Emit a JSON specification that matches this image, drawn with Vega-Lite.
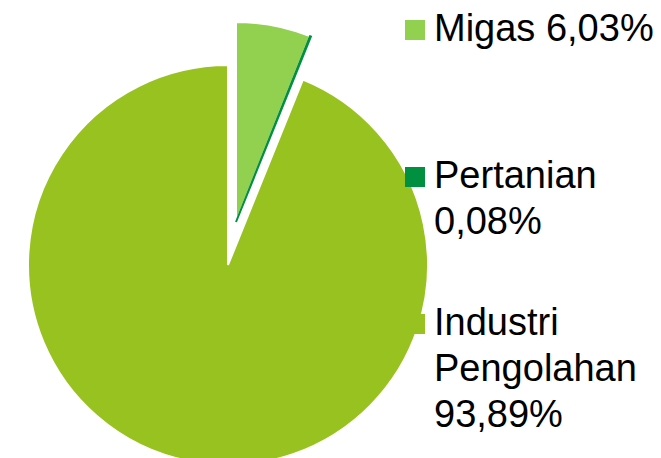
{
  "$schema": "https://vega.github.io/schema/vega-lite/v6.json",
  "width": 456,
  "height": 530,
  "autosize": "none",
  "padding": {"left": 0, "top": 0, "right": 205, "bottom": 0},
  "background": "white",
  "config": {"view": {"stroke": null}, "style": {"guide-label": {"lineHeight": 46}}},
  "data": {
    "values": [
      {"sektor": "Migas", "persen": 6.03, "urut": 1},
      {"sektor": "Pertanian", "persen": 0.08, "urut": 2},
      {"sektor": "Industri Pengolahan", "persen": 93.89, "urut": 3}
    ]
  },
  "transform": [
    {"stack": "persen", "groupby": [], "sort": [{"field": "urut", "order": "ascending"}], "as": ["t0", "t1"]}
  ],
  "layer": [
    {
      "transform": [{"filter": "datum.urut == 3"}],
      "mark": {"type": "arc", "outerRadius": 200, "stroke": "white", "strokeWidth": 2},
      "encoding": {
        "theta": {"field": "t0", "type": "quantitative", "stack": null, "scale": {"domain": [0, 100]}},
        "theta2": {"field": "t1"},
        "color": {
          "field": "sektor",
          "type": "nominal",
          "scale": {"domain": ["Migas", "Pertanian", "Industri Pengolahan"], "range": ["#92D050", "#00903F", "#98C21F"]},
          "legend": {
            "title": null,
            "orient": "none",
            "legendX": 396,
            "legendY": 11,
            "padding": 0,
            "symbolType": "square",
            "symbolSize": 400,
            "symbolStrokeWidth": 0,
            "labelFont": "Liberation Sans",
            "labelFontSize": 38,
            "labelColor": "black",
            "labelOffset": 0,
            "labelLimit": 400,
            "labelBaseline": "middle",
            "rowPadding": 17,
            "labelExpr": "datum.label == 'Migas' ? ['Migas 6,03%', '', ''] : datum.label == 'Pertanian' ? ['Pertanian', '0,08%', ''] : ['Industri', 'Pengolahan', '93,89%']"
          }
        }
      }
    },
    {
      "transform": [{"filter": "datum.urut < 3"}],
      "mark": {"type": "arc", "outerRadius": 200, "xOffset": 8, "yOffset": -43, "strokeWidth": 2},
      "encoding": {
        "theta": {"field": "t0", "type": "quantitative", "stack": null, "scale": {"domain": [0, 100]}},
        "theta2": {"field": "t1"},
        "color": {"field": "sektor", "type": "nominal"},
        "stroke": {"condition": {"test": "datum.sektor == 'Pertanian'", "value": "#00903F"}, "value": "white"}
      }
    }
  ]
}
